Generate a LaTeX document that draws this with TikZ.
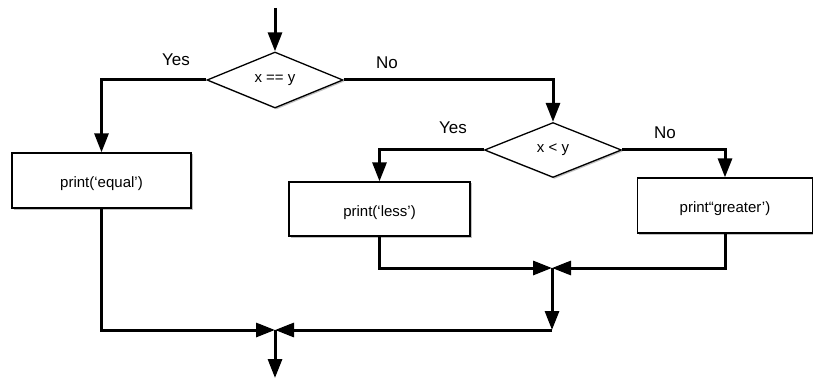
\documentclass[tikz,border=0pt]{standalone}
\usepackage{fontspec}
\setmainfont{Liberation Sans}
\usetikzlibrary{shapes.geometric,arrows.meta,shadows}
\begin{document}
\begin{tikzpicture}[x=1pt,y=-1pt,
  conn/.style={line width=3pt,-{Triangle[length=19pt,width=14pt]}},
  sh/.style={drop shadow={shadow xshift=1.5pt,shadow yshift=-1.5pt,opacity=0.35,fill=black!70}},
  dec/.style={diamond,draw,line width=1.3pt,fill=white,minimum width=136pt,minimum height=56pt,inner sep=0pt,font=\fontsize{15}{18}\selectfont,sh},
  proc/.style={rectangle,draw,line width=1.3pt,fill=white,minimum height=55pt,inner sep=0pt,font=\fontsize{15}{18}\selectfont,text height=14pt,text depth=0pt,sh},
  lab/.style={font=\fontsize{17}{20}\selectfont,inner sep=0pt}]
\useasboundingbox (0,0) rectangle (813,382);
\fill[white] (0,0) rectangle (813,382);
% nodes
\node[dec] (d1) at (275,80) {x == y};
\node[dec,minimum width=137pt,minimum height=55pt] (d2) at (553,150) {x < y};
\node[proc,minimum width=179pt] (b1) at (101.5,180.5) {print(‘equal’)};
\node[proc,minimum width=181pt,minimum height=54pt] (b2) at (379.5,209) {print(‘less’)};
\node[proc,minimum width=175pt] (b3) at (725,205.5) {print“greater’)};
% labels
\node[lab] (y1) at (176,60) {Yes};
\node[lab] (n1) at (387,63) {No};
\node[lab] (y2) at (453,128) {Yes};
\node[lab] (n2) at (665,133) {No};
% coordinates
\coordinate (top) at (275,8);
\coordinate (m1) at (552,268);
\coordinate (j) at (552,330);
\coordinate (m2) at (275,330);
\coordinate (end) at (275,378);
% connectors
\draw[conn] (top) -- (d1.north);
\draw[conn] (d1.west) -| (b1.north);
\draw[conn] (d1.east) -| (d2.north);
\draw[conn] (d2.west) -| (b2.north);
\draw[conn] (d2.east) -| (b3.north);
\draw[conn] (b2.south) |- (m1);
\draw[conn] (b3.south) |- (m1);
\draw[conn] (m1) -- (j);
\draw[conn] (j) -- (m2);
\draw[conn] (b1.south) |- (m2);
\draw[conn] (m2) -- (end);
\end{tikzpicture}
\end{document}
